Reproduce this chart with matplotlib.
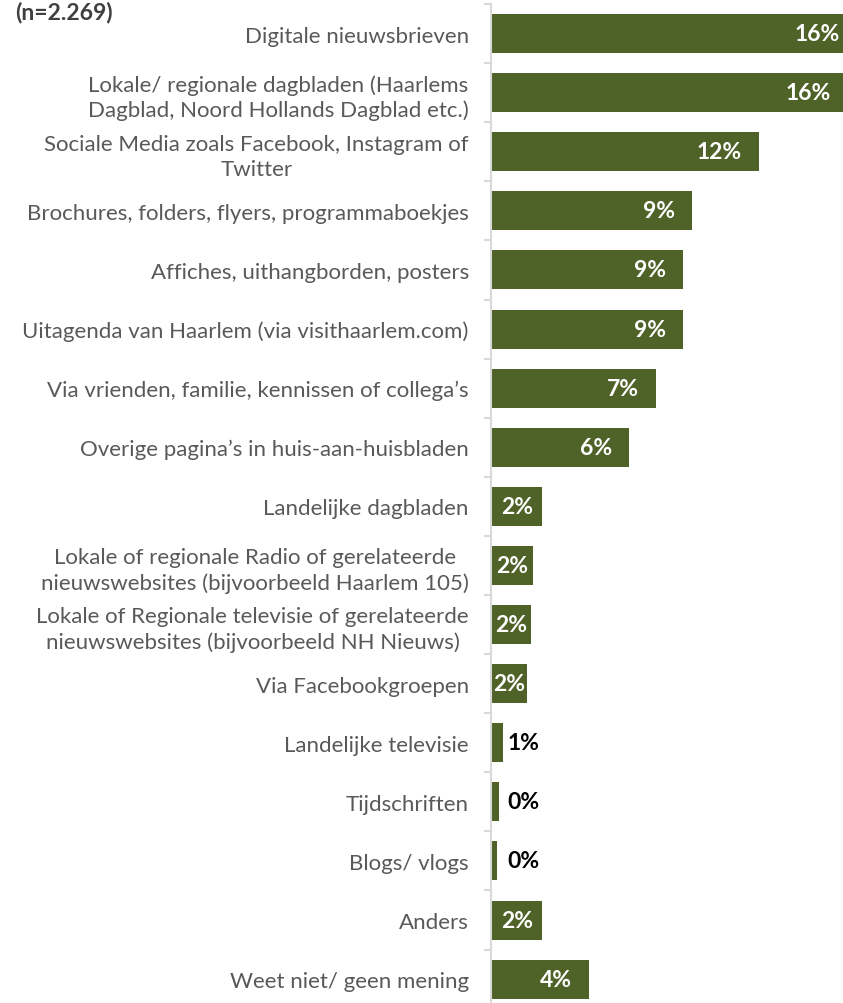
import numpy as np
import matplotlib
matplotlib.use('Agg')
import matplotlib.pyplot as plt

plt.rcParams['font.family'] = ['Lato', 'DejaVu Sans']

categories = [
    'Digitale nieuwsbrieven',
    'Lokale/ regionale dagbladen (Haarlems\nDagblad, Noord Hollands Dagblad etc.)',
    'Sociale Media zoals Facebook, Instagram of\nTwitter',
    'Brochures, folders, flyers, programmaboekjes',
    'Affiches, uithangborden, posters',
    'Uitagenda van Haarlem (via visithaarlem.com)',
    'Via vrienden, familie, kennissen of collega\u2019s',
    'Overige pagina\u2019s in huis-aan-huisbladen',
    'Landelijke dagbladen',
    'Lokale of regionale Radio of gerelateerde\nnieuwswebsites (bijvoorbeeld Haarlem 105)',
    'Lokale of Regionale televisie of gerelateerde\nnieuwswebsites (bijvoorbeeld NH Nieuws)',
    'Via Facebookgroepen',
    'Landelijke televisie',
    'Tijdschriften',
    'Blogs/ vlogs',
    'Anders',
    'Weet niet/ geen mening',
]
values = [16.4, 16.0, 12.0, 9.0, 8.6, 8.6, 7.4, 6.2, 2.3, 1.9, 1.8, 1.6, 0.55, 0.36, 0.27, 2.3, 4.4]

green = '#4F6228'
grey_txt = '#595959'
axis_grey = '#D9D9D9'

W, H = 843, 1004
fig = plt.figure(figsize=(W / 100, H / 100), dpi=100)

# axes placed in pixel terms of the original
x0 = 491
px_per_pct = 22.3
ax_w = 409
top = 5
pitch = 59.1
n = len(categories)
ax_h = n * pitch
ax = fig.add_axes([x0 / W, 1 - (top + ax_h) / H, ax_w / W, ax_h / H])
ax.set_xlim(0, ax_w / px_per_pct)
ax.set_ylim(n - 0.5, -0.5)

y = np.arange(n)
ax.barh(y, values, height=0.66, color=green, clip_on=False, zorder=2)

for s in ['top', 'right', 'bottom']:
    ax.spines[s].set_visible(False)
ax.spines['left'].set_color(axis_grey)
ax.spines['left'].set_linewidth(1.5)
ax.set_xticks([])
ax.set_yticks(y)
ax.set_yticklabels(categories, fontsize=16, color=grey_txt, multialignment='center',
                   linespacing=1.3)
ax.tick_params(axis='y', which='major', length=0, pad=16)
ax.set_yticks(np.arange(-0.5, n + 0.5, 1), minor=True)
ax.tick_params(axis='y', which='minor', length=5, width=1.5, color=axis_grey)

lab_w = 29  # approx pixel width of a 2-char label
pad = 17
for i, v in enumerate(values):
    txt = f'{v:.0f}%'
    blen = v * px_per_pct
    if blen < lab_w:
        ax.annotate(txt, xy=(max(v, 0.55), i), xytext=(4, 0), textcoords='offset pixels',
                    ha='left', va='center', fontsize=16.5, fontweight='bold', color='black')
    elif blen < lab_w + 2 * pad:
        ax.annotate(txt, xy=(v / 2, i), ha='center', va='center',
                    fontsize=16.5, fontweight='bold', color='white')
    else:
        ax.annotate(txt, xy=(v, i), xytext=(-pad, 0), textcoords='offset pixels',
                    ha='right', va='center', fontsize=16.5, fontweight='bold', color='white',
                    annotation_clip=False)

fig.text(15 / W, 1 - 19 / H, '(n=2.269)', fontsize=16.5, fontweight='bold',
         color='#404040', ha='left', va='baseline')

fig.savefig('out.png', dpi=100)
